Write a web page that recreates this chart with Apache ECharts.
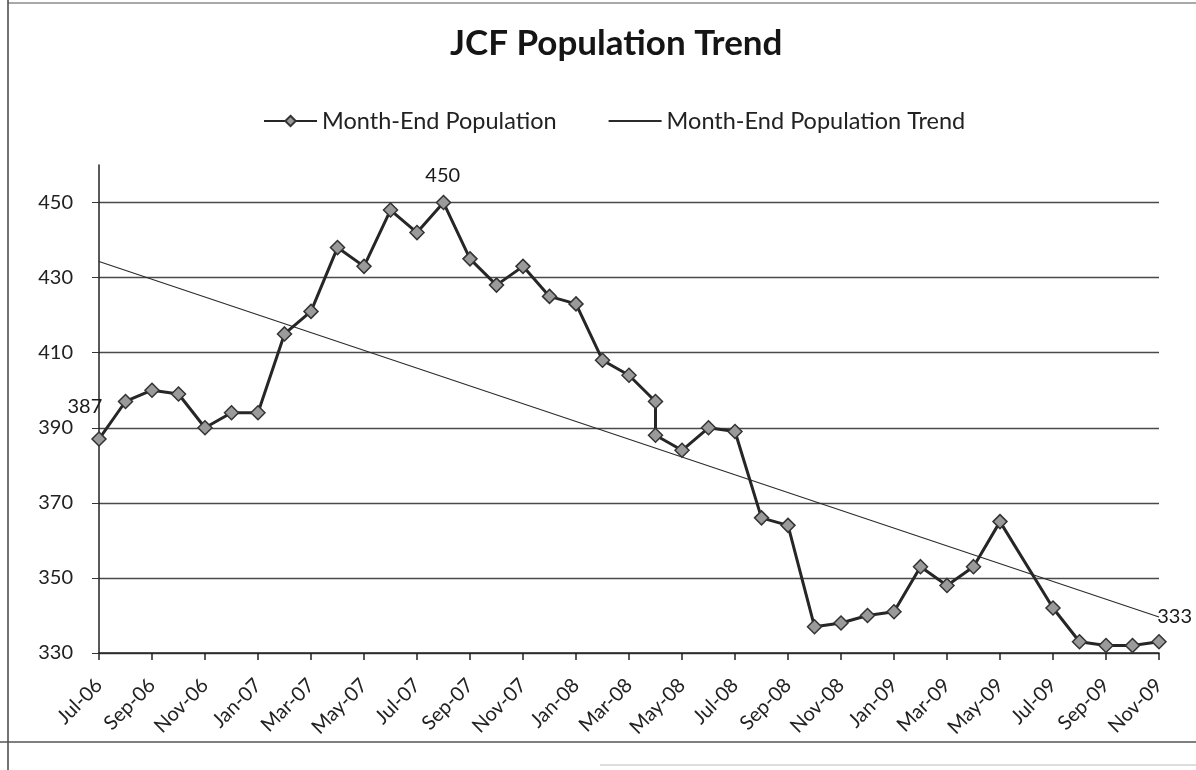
<!DOCTYPE html>
<html><head><meta charset="utf-8">
<script src="https://cdn.jsdelivr.net/npm/echarts@6/dist/echarts.min.js"></script>
<style>html,body{margin:0;padding:0;background:#fff}#c{width:1196px;height:770px}</style>
</head><body><div id="c"></div>
<script>
// Category axis: month labels
const months = ['Jul-06','Aug-06','Sep-06','Oct-06','Nov-06','Dec-06',
  'Jan-07','Feb-07','Mar-07','Apr-07','May-07','Jun-07','Jul-07','Aug-07','Sep-07','Oct-07','Nov-07','Dec-07',
  'Jan-08','Feb-08','Mar-08','Apr-08','May-08','Jun-08','Jul-08','Aug-08','Sep-08','Oct-08','Nov-08','Dec-08',
  'Jan-09','Feb-09','Mar-09','Apr-09','May-09','Jun-09','Jul-09','Aug-09','Sep-09','Oct-09','Nov-09'];

// Month-End Population observations (month of each point, and its value)
const popMonths = ['Jul-06','Aug-06','Sep-06','Oct-06','Nov-06','Dec-06',
  'Jan-07','Feb-07','Mar-07','Apr-07','May-07','Jun-07','Jul-07','Aug-07','Sep-07','Oct-07','Nov-07','Dec-07',
  'Jan-08','Feb-08','Mar-08','Apr-08','Apr-08','May-08','Jun-08','Jul-08','Aug-08','Sep-08','Oct-08','Nov-08','Dec-08',
  'Jan-09','Feb-09','Mar-09','Apr-09','May-09','Jul-09','Aug-09','Sep-09','Oct-09','Nov-09'];
const popValues = [387,397,400,399,390,394,
  394,415,421,438,433,448,442,450,435,428,433,425,
  423,408,404,397,388,384,390,389,366,364,337,338,340,
  341,353,348,353,365,342,333,332,332,333];

// Month-End Population Trend (end points)
const trendMonths = ['Jul-06','Nov-09'];
const trendValues = [434.3, 339.6];

// Y-axis tick labels
const yTicks = [330,350,370,390,410,430,450];

// Points that carry a data label
const labelledMonths = ['Jul-06','Aug-07','Nov-09'];

const FONT = 'Lato, "Open Sans", sans-serif';
const labelStyles = {
  'Jul-06': {position:[11,-35], align:'right', verticalAlign:'top'},
  'Aug-07': {position:[7,-29], align:'center', verticalAlign:'top'},
  'Nov-09': {position:[6,-27], align:'left', verticalAlign:'top'}
};

const popData = popMonths.map((m,i) => {
  const item = {value:[months.indexOf(m), popValues[i]]};
  if (labelledMonths.includes(m) && popMonths.indexOf(m) === i) {
    item.label = Object.assign({show:true, formatter:String(popValues[i]), fontSize:20,
      color:'#1a1a1a', fontFamily:FONT}, labelStyles[m]);
  }
  return item;
});
const trendData = trendMonths.map((m,i) => [months.indexOf(m), trendValues[i]]);

const chart = echarts.init(document.getElementById('c'), null, {renderer:'canvas'});
chart.setOption({
  backgroundColor:'#fff',
  animation:false,
  textStyle:{fontFamily:FONT},
  title:{text:'JCF Population Trend', left:445, top:21,
    textStyle:{fontSize:35, fontWeight:'bold', color:'#151515', fontFamily:FONT}},
  legend:{top:104, left:258, itemWidth:53, itemHeight:13, itemGap:51,
    textStyle:{fontSize:23.5, color:'#222', fontFamily:FONT},
    data:['Month-End Population',
      {name:'Month-End Population Trend', itemStyle:{color:'rgba(0,0,0,0)', borderColor:'rgba(0,0,0,0)', opacity:0}}]},
  grid:{left:99, right:37, top:165, bottom:117},
  xAxis:{type:'category', data:months, boundaryGap:false,
    axisLine:{lineStyle:{color:'#222', width:1.5}},
    axisTick:{show:true, interval:1, length:7, lineStyle:{color:'#222', width:1.5}},
    axisLabel:{interval:1, rotate:45, fontSize:20, margin:29, color:'#222', fontFamily:FONT},
    splitLine:{show:false}},
  yAxis:{type:'value', min:330, max:460, interval:20,
    axisLine:{show:true, lineStyle:{color:'#222', width:1.5}},
    axisTick:{show:true, length:7, customValues:yTicks, lineStyle:{color:'#333'}},
    axisLabel:{fontSize:20, margin:26, color:'#222', fontFamily:FONT, customValues:yTicks},
    splitLine:{show:true, lineStyle:{color:'#4a4a4a', width:1.3}}},
  series:[
    {name:'Month-End Population', type:'line', data:popData,
      symbol:'diamond', symbolSize:14, showAllSymbol:true,
      lineStyle:{color:'#262626', width:3},
      itemStyle:{color:'#9a9a9a', borderColor:'#333', borderWidth:1.5},
      z:3},
    {name:'Month-End Population Trend', type:'line', data:trendData,
      symbol:'none', lineStyle:{color:'#2a2a2a', width:1.1},
      itemStyle:{color:'#2a2a2a'}, z:2}
  ],
  graphic:[
    {type:'line', shape:{x1:8, y1:0, x2:8, y2:770}, style:{stroke:'#444', lineWidth:1.5}, silent:true},
    {type:'line', shape:{x1:8, y1:3, x2:1196, y2:3}, style:{stroke:'#555', lineWidth:1.2}, silent:true},
    {type:'line', shape:{x1:0, y1:742, x2:1196, y2:742}, style:{stroke:'#555', lineWidth:1.5}, silent:true},
    {type:'line', shape:{x1:600, y1:765, x2:1196, y2:765}, style:{stroke:'#bbb', lineWidth:1}, silent:true}
  ]
});
</script></body></html>
